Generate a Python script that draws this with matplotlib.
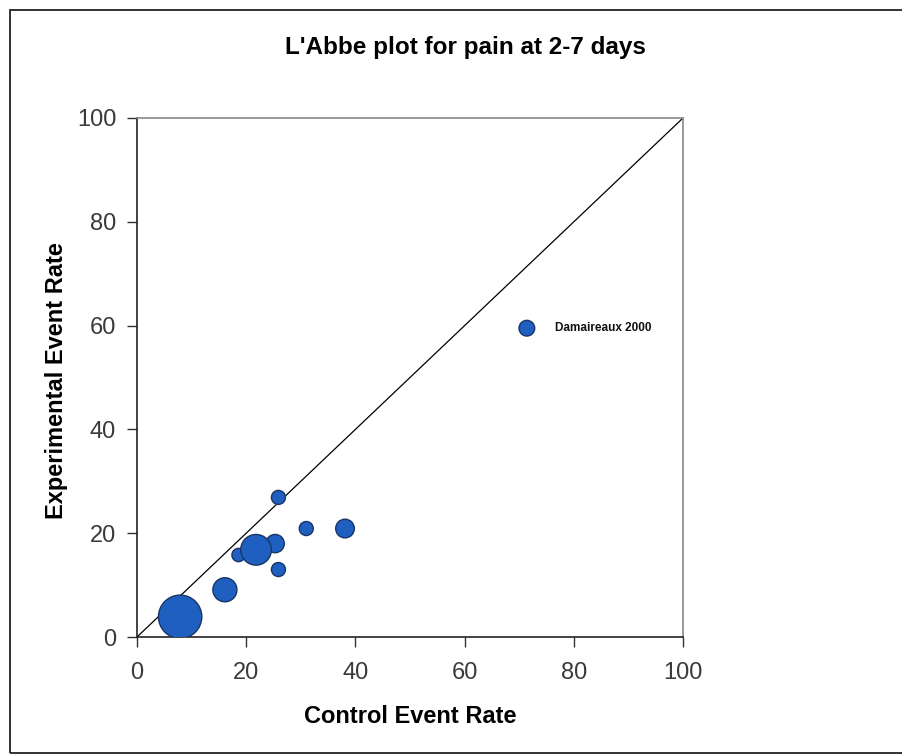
import numpy as np
import matplotlib.pyplot as plt
from matplotlib.patches import Rectangle

# control vs experimental event rates (%) for each trial, bubble area ~ trial weight
control = [7.9, 16.1, 18.6, 21.8, 25.3, 25.9, 25.9, 31.0, 38.1, 71.4]
experimental = [3.9, 9.1, 15.8, 16.8, 18.0, 13.0, 26.9, 20.9, 20.9, 59.5]
weight = [975, 300, 92, 488, 174, 102, 102, 102, 181, 128]
labelled = {9: 'Damaireaux 2000'}

title = "L'Abbe plot for pain at 2-7 days"
ticks = [0, 20, 40, 60, 80, 100]

plt.rcParams['font.family'] = ['Liberation Sans', 'DejaVu Sans']

fig = plt.figure(figsize=(9.03, 7.54), dpi=100)
fig.patch.set_facecolor('white')

# outer chart frame
fig.patches.append(Rectangle((10.5 / 903, 1.5 / 754), 1.0, 743 / 754,
                             transform=fig.transFigure, fill=False,
                             edgecolor='#222222', linewidth=1.3))

ax = fig.add_axes([137 / 903, 117 / 754, 546 / 903, 519 / 754])

ax.plot([0, 100], [0, 100], color='black', linewidth=0.9, zorder=2)

order = np.argsort(weight)
ax.scatter(np.array(control)[order], np.array(experimental)[order],
           s=np.array(weight)[order], color='#1f5fc0', edgecolors='#1a3566',
           linewidths=1.0, zorder=3)

for i, txt in labelled.items():
    ax.annotate(txt, (control[i], experimental[i]), xytext=(20, 0),
                textcoords='offset points', fontsize=8.5, fontweight='bold',
                va='center', ha='left', color='#111111')

ax.set_xlim(0, 100)
ax.set_ylim(0, 100)
ax.set_xticks(ticks)
ax.set_yticks(ticks)
ax.tick_params(direction='out', length=7, width=1.0, color='#333333',
               labelsize=17, labelcolor='#3a3a3a')
ax.tick_params(axis='x', pad=11)
ax.tick_params(axis='y', pad=8)

for side in ['top', 'right']:
    ax.spines[side].set_color('#888888')
    ax.spines[side].set_linewidth(1.2)
for side in ['left', 'bottom']:
    ax.spines[side].set_color('#222222')
    ax.spines[side].set_linewidth(1.2)

ax.set_xlabel('Control Event Rate', fontsize=17, fontweight='bold', va='baseline')
ax.xaxis.set_label_coords(0.5, (637 - 723) / 519)
ax.set_ylabel('Experimental Event Rate', fontsize=17, fontweight='bold',
              va='center', ha='center')
ax.yaxis.set_label_coords((57 - 137) / 546, 0.495)

fig.text(465 / 903, 1 - 54 / 754, title, fontsize=17.5, fontweight='bold',
         ha='center', va='baseline')

fig.savefig('out.png', dpi=100)
